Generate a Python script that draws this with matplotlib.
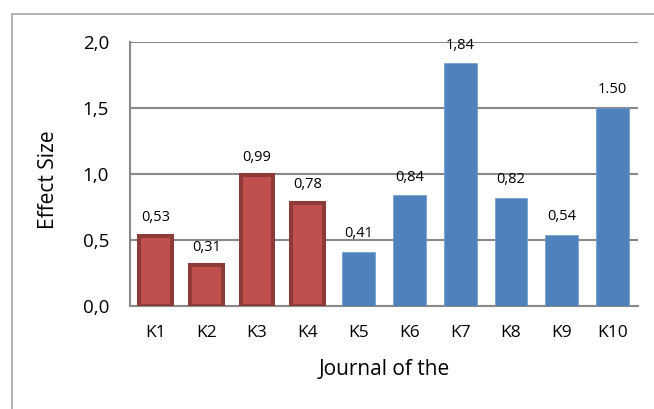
import matplotlib
matplotlib.use("Agg")
import matplotlib.pyplot as plt
from matplotlib.patches import Rectangle

# ------------------------------------------------------------------------------------------
# data
journals = ["K1", "K2", "K3", "K4", "K5", "K6", "K7", "K8", "K9", "K10"]
effect_sizes = [0.53, 0.31, 0.99, 0.78, 0.41, 0.84, 1.84, 0.82, 0.54, 1.50]
value_labels = ["0,53", "0,31", "0,99", "0,78", "0,41", "0,84", "1,84", "0,82", "0,54", "1.50"]
y_ticks = [0.0, 0.5, 1.0, 1.5, 2.0]
y_tick_labels = ["0,0", "0,5", "1,0", "1,5", "2,0"]
n_red = 4

# ------------------------------------------------------------------------------------------
plt.rcParams["font.family"] = ["Open Sans", "DejaVu Sans"]

color_red = "#C0504D"
color_red_edge = "#8E3A38"
color_blue = "#4F81BD"
color_grid = "#898989"

fig = plt.figure(figsize=(6.54, 4.09), dpi=100)
W, H = 654, 409

# outer chart frame (right/bottom edges are cut off in the original)
fig.patches.append(Rectangle((12 / W, -0.1), 2.0, (1 - 14 / H) + 0.1, transform=fig.transFigure,
                             fill=False, edgecolor="#ADADAD", linewidth=1.3))

ax = fig.add_axes([130 / W, 1 - 306 / H, (638 - 130) / W, (306 - 42) / H])

x_pos = list(range(len(journals)))
bar_width = 0.645

ax.bar(x_pos[:n_red], effect_sizes[:n_red], width=bar_width, color=color_red,
       edgecolor=color_red_edge, linewidth=2.9, zorder=3)
ax.bar(x_pos[n_red:], effect_sizes[n_red:], width=bar_width, color=color_blue,
       edgecolor="#6F9AD0", linewidth=0.5, zorder=3)

for crrt_x, crrt_val, crrt_label in zip(x_pos, effect_sizes, value_labels):
    ax.annotate(crrt_label, (crrt_x, crrt_val), xytext=(0, 13), textcoords="offset points",
                ha="center", va="center", fontsize=10.5, color="black")

ax.set_xlim(-0.5, len(journals) - 0.5)
ax.set_ylim(0, 2.0)
ax.set_yticks(y_ticks)
ax.set_yticklabels(y_tick_labels, fontsize=13.5)
ax.set_xticks(x_pos)
ax.set_xticklabels(journals, fontsize=12.5)
ax.tick_params(axis="both", length=0)
ax.tick_params(axis="y", pad=15)
ax.tick_params(axis="x", pad=14)

ax.yaxis.grid(True, color=color_grid, linewidth=1.5, zorder=0)
ax.set_axisbelow(True)
for crrt_side in ["top", "right"]:
    ax.spines[crrt_side].set_visible(False)
for crrt_side in ["left", "bottom"]:
    ax.spines[crrt_side].set_color(color_grid)
    ax.spines[crrt_side].set_linewidth(1.5)

ax.set_ylabel("Effect Size", fontsize=15)
ax.yaxis.set_label_coords((59 - 130) / (638 - 130), 0.48)
ax.set_xlabel("Journal of the", fontsize=15)
ax.xaxis.set_label_coords(0.5, -(359 - 306) / (306 - 42))

fig.savefig("out.png", dpi=100)
